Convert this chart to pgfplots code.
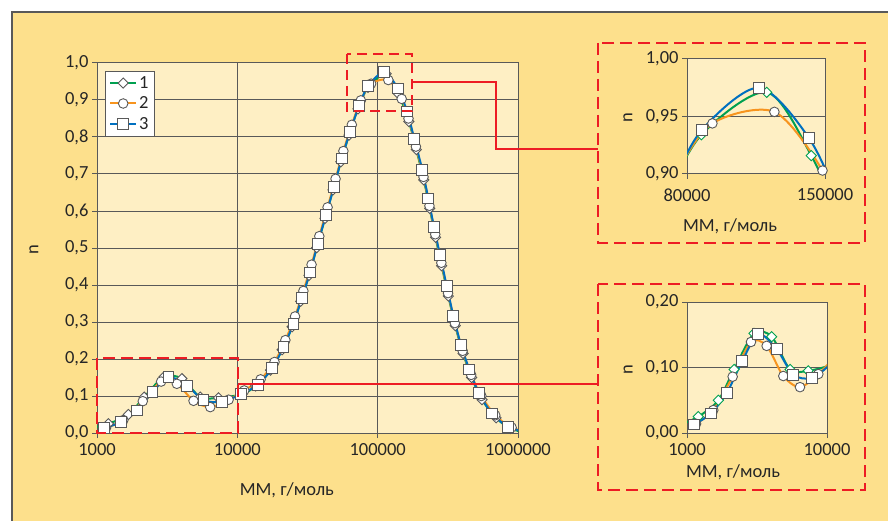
\documentclass[border=0pt]{standalone}
\usepackage{fontspec}
\setmainfont{Carlito}
\usepackage{pgfplots}
\pgfplotsset{compat=1.18}
\usepackage{pgfplotstable}

\definecolor{outerbg}{RGB}{253,224,140}
\definecolor{plotbg}{RGB}{254,239,196}
\definecolor{gridc}{RGB}{89,89,89}
\definecolor{sgreen}{RGB}{0,160,80}
\definecolor{sorange}{RGB}{247,148,30}
\definecolor{sblue}{RGB}{0,112,192}
\definecolor{redc}{RGB}{237,28,36}
\definecolor{txt}{RGB}{38,38,38}

% series 1 (diamonds)
\pgfplotstableread{
x y
880 0.012
1204 0.025
1675 0.050
2167 0.097
3010 0.152
4027 0.147
5446 0.097
7343 0.095
10800 0.105
13506 0.127
17246 0.170
20830 0.225
24583 0.287
28290 0.356
32433 0.426
36787 0.501
42131 0.580
48093 0.657
54608 0.733
62510 0.805
72354 0.876
85400 0.934
115000 0.971
140900 0.916
166820 0.842
188560 0.766
213180 0.684
234960 0.607
258450 0.529
285830 0.452
318900 0.370
357140 0.290
406020 0.215
467430 0.150
554140 0.090
698120 0.041
887000 0.012
1300000 -0.005
}\sone

% series 2 (circles)
\pgfplotstableread{
x y
1160 0.014
1541 0.035
2119 0.086
2864 0.139
3706 0.133
4873 0.087
6412 0.070
8670 0.090
11200 0.115
14647 0.145
18407 0.192
21997 0.251
25767 0.315
29557 0.384
33801 0.455
38378 0.532
43974 0.610
50111 0.687
56976 0.762
65445 0.833
75880 0.899
89800 0.944
119100 0.954
148300 0.903
165820 0.850
187340 0.774
212140 0.692
233860 0.614
257190 0.537
284270 0.460
317160 0.378
354900 0.297
403260 0.222
463840 0.157
548100 0.100
688850 0.048
900000 0.015
1300000 -0.003
}\stwo

% series 3 (squares)
\pgfplotstableread{
x y
1127 0.013
1484 0.030
1922 0.061
2484 0.110
3228 0.151
4373 0.128
5742 0.089
7779 0.084
10600 0.105
13960 0.130
17750 0.175
21290 0.232
25070 0.295
28760 0.364
32970 0.434
37340 0.510
42830 0.589
48860 0.666
55440 0.742
63540 0.814
73650 0.884
85500 0.938
111000 0.975
139500 0.931
161900 0.869
182500 0.795
208000 0.711
229500 0.634
252200 0.556
278100 0.481
310300 0.398
346100 0.317
392400 0.238
449800 0.172
524600 0.109
653000 0.053
853000 0.017
1300000 -0.004
}\sthree

\pgfplotsset{
  baseax/.style={
    scale only axis,
    axis background/.style={fill=plotbg},
    axis line style={gridc, line width=1pt},
    tick style={gridc, line width=1pt},
    major tick length=5pt,
    tick align=outside,
    tick pos=left,
    xminorticks=false, yminorticks=false,
    grid style={gridc, line width=1pt},
    ymajorgrids,
    tick label style={font=\fontsize{18.5}{22}\selectfont, text=txt},
    label style={font=\fontsize{18.5}{22}\selectfont, text=txt},
    /pgf/number format/assume math mode=true,
    yticklabel style={/pgf/number format/.cd, fixed, fixed zerofill, use comma, precision=1},
    clip=true,
  },
  sgr/.style={sgreen, line width=2pt, smooth, mark=square*, mark size=3.6pt,
    mark options={rotate=45, fill=white, draw=#1, line width=0.9pt, solid}},
  sor/.style={sorange, line width=2pt, smooth, mark=*, mark size=4.8pt,
    mark options={fill=white, draw=gridc, line width=0.9pt, solid}},
  sbl/.style={sblue, line width=2pt, smooth, mark=square*, mark size=5.4pt,
    mark options={fill=white, draw=gridc, line width=0.9pt, solid}},
}

\begin{document}
\begin{tikzpicture}[x=1pt,y=1pt]
% outer frame
\fill[outerbg] (12,-20) rectangle (900,508);
\draw[gridc, line width=1.5pt] (12,-20) -- (12,508) -- (900,508);

% main axis
\begin{axis}[xmode=log, log basis x=10, baseax,
  at={(97pt,87pt)}, anchor=south west, width=421pt, height=370pt,
  xmin=1000, xmax=1000000, ymin=0, ymax=1,
  xtick={1000,10000,100000,1000000}, xticklabels={1000,10000,100000,1000000},
  xticklabel style={yshift=-2pt},
  ytick={0,0.1,0.2,0.3,0.4,0.5,0.6,0.7,0.8,0.9,1.0},
  xmajorgrids,
  xlabel={MM, г/моль}, ylabel={n},
  xlabel style={at={(axis description cs:0.451,-0.154)}, anchor=center},
  ylabel style={at={(axis description cs:-0.150,0.495)}, anchor=center},
  legend style={at={(0.019,0.978)}, anchor=north west, draw=gridc, fill=white,
    font=\fontsize{18.5}{22}\selectfont, text=txt, inner xsep=4pt, inner ysep=3pt, row sep=3pt},
  legend cell align=left,
  legend image code/.code={\draw[mark repeat=2,mark phase=2,#1] plot coordinates {(0pt,0pt)(13pt,0pt)(26pt,0pt)};},
]
\addplot[sgr=gridc] table {\sone};
\addlegendentry{1}
\addplot[sor] table {\stwo};
\addlegendentry{2}
\addplot[sbl] table {\sthree};
\addlegendentry{3}
\end{axis}

% inset 1 (peak)
\begin{axis}[xmode=log, log basis x=10, baseax,
  at={(687pt,346pt)}, anchor=south west, width=138pt, height=115pt,
  xmin=80000, xmax=150000, ymin=0.9, ymax=1.0,
  xtick={80000,150000}, xticklabels={80000,150000},
  xticklabel style={yshift=-6pt},
  ytick={0.9,0.95,1.0},
  yticklabel style={/pgf/number format/precision=2},
  xlabel={MM, г/моль}, ylabel={n},
  xlabel style={at={(axis description cs:0.312,-0.452)}, anchor=center},
  ylabel style={at={(axis description cs:-0.428,0.487)}, anchor=center},
]
\addplot[sgr=sgreen] table {\sone};
\addplot[sor] table {\stwo};
\addplot[sbl] table {\sthree};
\end{axis}

% inset 2 (low MM)
\begin{axis}[xmode=log, log basis x=10, baseax,
  at={(687pt,87pt)}, anchor=south west, width=140pt, height=131pt,
  xmin=1000, xmax=10000, ymin=0, ymax=0.2,
  xtick={1000,10000}, xticklabels={1000,10000},
  xticklabel style={yshift=-2pt},
  ytick={0,0.1,0.2},
  yticklabel style={/pgf/number format/precision=2},
  xlabel={MM, г/моль}, ylabel={n},
  xlabel style={at={(axis description cs:0.329,-0.298)}, anchor=center},
  ylabel style={at={(axis description cs:-0.421,0.481)}, anchor=center},
]
\addplot[sgr=sgreen] table {\sone};
\addplot[sor] table {\stwo};
\addplot[sbl] table {\sthree};
\end{axis}

% red annotations
\begin{scope}[redc, line width=2pt]
\draw[dash pattern=on 12pt off 6pt] (598,477) rectangle (865,277);
\draw[dash pattern=on 12pt off 6pt] (598,236) rectangle (865,30);
\draw[dash pattern=on 10pt off 6pt] (347,466) rectangle (412,409);
\draw[dash pattern=on 12pt off 6pt] (97,162) rectangle (238,87);
\draw (412,438) -- (496,438) -- (496,371) -- (598,371);
\draw (238,136) -- (598,136);
\end{scope}

\pgfresetboundingbox
\path[use as bounding box] (0,0) rectangle (888,520);
\end{tikzpicture}
\end{document}
